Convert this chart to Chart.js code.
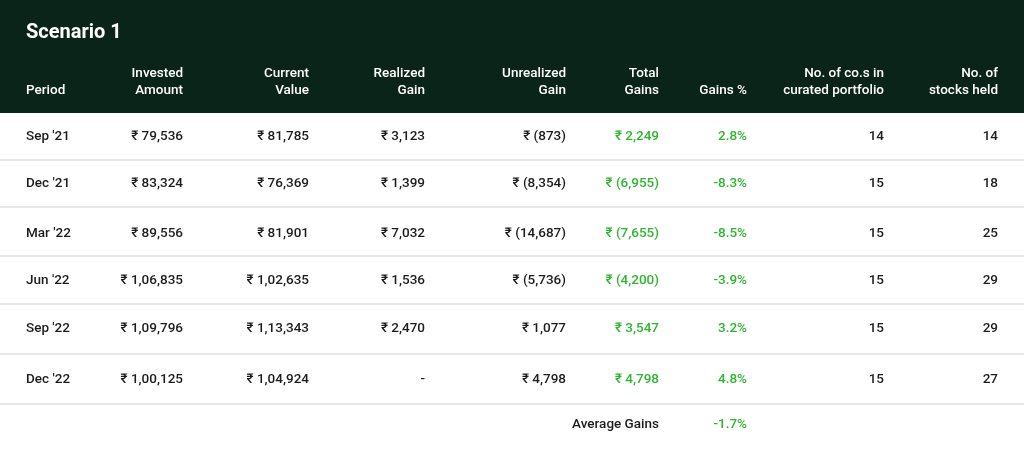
<!DOCTYPE html><html><head><meta charset="utf-8">
<script src="https://cdn.jsdelivr.net/npm/chart.js@4"></script>
<style>html,body{margin:0;padding:0;background:#fff}#w{width:1024px;height:457px}</style></head><body><div id="w"><canvas id="c"></canvas></div>
<script>
const title = "Scenario 1";
const headers = [["","Period"],["Invested","Amount"],["Current","Value"],["Realized","Gain"],["Unrealized","Gain"],["Total","Gains"],["","Gains %"],["No. of co.s in","curated portfolio"],["No. of","stocks held"]];
const periods = ["Sep '21","Dec '21","Mar '22","Jun '22","Sep '22","Dec '22"];
const invested = ["₹ 79,536","₹ 83,324","₹ 89,556","₹ 1,06,835","₹ 1,09,796","₹ 1,00,125"];
const current = ["₹ 81,785","₹ 76,369","₹ 81,901","₹ 1,02,635","₹ 1,13,343","₹ 1,04,924"];
const realized = ["₹ 3,123","₹ 1,399","₹ 7,032","₹ 1,536","₹ 2,470","-"];
const unrealized = ["₹ (873)","₹ (8,354)","₹ (14,687)","₹ (5,736)","₹ 1,077","₹ 4,798"];
const totalGains = ["₹ 2,249","₹ (6,955)","₹ (7,655)","₹ (4,200)","₹ 3,547","₹ 4,798"];
const gainsPct = ["2.8%","-8.3%","-8.5%","-3.9%","3.2%","4.8%"];
const companies = [14,15,15,15,15,15];
const stocks = [14,18,25,29,29,27];
const averageLabel = "Average Gains", averageValue = "-1.7%";

const colX = [26,183,309,425,566,659,747,884,998];
const rowY = [137,184,234,281,329,380];
const lineY = [160,207,256,304,354,404];
const FONT = "Roboto, 'DejaVu Sans', sans-serif";
const plugin = {id:'table', beforeDraw(ch){
  const c=ch.ctx, xs=ch.scales.x, ys=ch.scales.y, X=v=>xs.getPixelForValue(v), Y=v=>ys.getPixelForValue(v);
  c.save();
  c.fillStyle="#0b2419"; c.fillRect(X(0),Y(0),X(1024)-X(0),Y(113)-Y(0));
  c.fillStyle="#fff"; c.textBaseline="middle"; c.textAlign="left";
  c.font="bold 20px "+FONT; c.fillText(title,X(26),Y(33));
  c.font="500 13.5px "+FONT;
  headers.forEach((h,i)=>{c.textAlign=i===0?"left":"right";
    if(h[0]) c.fillText(h[0],X(colX[i]),Y(74)); c.fillText(h[1],X(colX[i]),Y(91));});
  c.strokeStyle="#c9d2cf"; c.lineWidth=1.2;
  lineY.forEach(l=>{c.beginPath();c.moveTo(X(0),Y(l));c.lineTo(X(1024),Y(l));c.stroke();});
  const cols=[periods,invested,current,realized,unrealized,totalGains,gainsPct,companies,stocks];
  periods.forEach((p,r)=>cols.forEach((col,i)=>{
    c.textAlign=i===0?"left":"right"; c.fillStyle=(i===5||i===6)?"#2fb62f":"#1c1c1c";
    c.font="500 13.5px "+FONT;
    c.fillText(String(col[r]),X(colX[i]),Y(rowY[r]));
  }));
  c.textAlign="right"; c.fillStyle="#1c1c1c"; c.font="500 13.5px "+FONT; c.fillText(averageLabel,X(colX[5]),Y(425));
  c.fillStyle="#2fb62f"; c.fillText(averageValue,X(colX[6]),Y(425));
  c.restore();
}};
new Chart(document.getElementById('c'),{type:'scatter',data:{datasets:[]},plugins:[plugin],
 options:{responsive:true,maintainAspectRatio:false,animation:false,layout:{padding:0},
  plugins:{legend:{display:false},tooltip:{enabled:false}},
  scales:{x:{type:'linear',min:0,max:1024,display:false},y:{type:'linear',min:0,max:457,reverse:true,display:false}}}});
</script></body></html>
